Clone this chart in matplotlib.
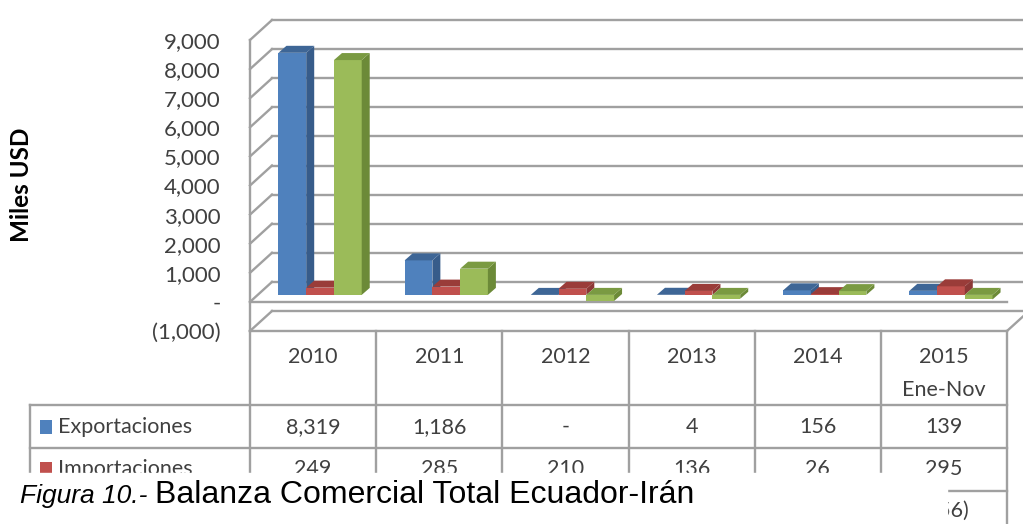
import numpy as np
import matplotlib.pyplot as plt
from matplotlib.patches import Polygon, Rectangle

years = ['2010', '2011', '2012', '2013', '2014', '2015\nEne-Nov']
exportaciones = [8319, 1186, 0, 4, 156, 139]
importaciones = [249, 285, 210, 136, 26, 295]
balanza = [8070, 901, -210, -132, 130, -156]
series = [exportaciones, importaciones, balanza]
names = ['Exportaciones', 'Importaciones', 'Balanza Comercial']
yticks = list(range(-1000, 9001, 1000))

front = ['#4F81BD', '#C0504D', '#9BBB59']
side = ['#375C8A', '#8C3836', '#6C8A38']
top = ['#3E6696', '#9A3C39', '#7A9A42']
grid_c = '#a0a0a0'
txt_c = '#404040'


def fmt(v):
    if v == 0:
        return '-'
    if v < 0:
        return '({:,})'.format(-v)
    return '{:,}'.format(v)


W, H = 1023, 524
fig = plt.figure(figsize=(W / 100, H / 100), dpi=100)
plt.rcParams['font.family'] = ['Lato', 'DejaVu Sans']

# plano frontal del grafico
ax = fig.add_axes([250 / W, (H - 331) / H, 757 / W, 291 / H])
ax.set_xlim(0, 6)
ax.set_ylim(-1000, 9000)
ax.patch.set_visible(False)
for s in ax.spines.values():
    s.set_visible(False)
ax.set_xticks([])
ax.set_yticks(yticks, [fmt(t) for t in yticks], fontsize=16, color=txt_c)
ax.tick_params(axis='y', length=0, pad=21)
fig.text(22 / W, (H - 185) / H, 'Miles USD', rotation=90, fontsize=17.5, fontweight='bold',
         ha='center', va='center')

# pixeles -> unidades de datos
sx = 6 / 757
sy = 10000 / 291
fdx, fdy = 22 * sx, 20 * sy     # profundidad del piso
bdx, bdy = 7 * sx, 7 * sy       # desplazamiento de las barras
ddx, ddy = 8 * sx, 7 * sy       # profundidad de cada barra
w = 0.22

# paredes y lineas de division
for t in yticks:
    ax.plot([fdx, 6 + fdx], [t + fdy, t + fdy], color=grid_c, lw=1.7, clip_on=False, zorder=1)
    ax.plot([0, fdx], [t, t + fdy], color=grid_c, lw=1.7, clip_on=False, zorder=1)
ax.plot([0, 0], [-1000, 9000], color=grid_c, lw=1.7, clip_on=False, zorder=1)
ax.plot([0, 6], [0, 0], color=grid_c, lw=1.7, clip_on=False, zorder=2)
ax.plot([0, 6], [-1000, -1000], color=grid_c, lw=1.7, clip_on=False, zorder=2)
ax.plot([6, 6 + fdx], [-1000, -1000 + fdy], color=grid_c, lw=1.7, clip_on=False, zorder=2)

# barras 3D
for i in range(len(years)):
    for j, vals in enumerate(series):
        v = vals[i]
        x0 = i + 0.5 - 1.5 * w + j * w + bdx
        y0, y1 = bdy, v + bdy
        hi = max(y0, y1)
        z = 3 + i * 3 + j
        ax.add_patch(Rectangle((x0, min(y0, y1)), w, abs(v), color=front[j], lw=0, zorder=z))
        ax.add_patch(Polygon([(x0 + w, y0), (x0 + w + ddx, y0 + ddy), (x0 + w + ddx, y1 + ddy), (x0 + w, y1)],
                             closed=True, color=side[j], lw=0, zorder=z))
        ax.add_patch(Polygon([(x0, hi), (x0 + w, hi), (x0 + w + ddx, hi + ddy), (x0 + ddx, hi + ddy)],
                             closed=True, color=top[j], lw=0, zorder=z))

# tabla de datos
tab = fig.add_axes([250 / W, 0, 757 / W, (H - 331) / H])
tab.set_xlim(0, 6)
tab.set_ylim(H, 331)
tab.axis('off')
xl = (30 - 250) * sx
for yy in [405, 448, 491]:
    tab.plot([xl, 6], [yy, yy], color=grid_c, lw=1.7, clip_on=False)
for k in range(7):
    tab.plot([k, k], [331, H], color=grid_c, lw=1.7, clip_on=False)
tab.plot([xl, xl], [405, H], color=grid_c, lw=1.7, clip_on=False)

for i, yr in enumerate(years):
    for n, line in enumerate(yr.split('\n')):
        tab.text(i + 0.5, 357 + 33 * n, line, ha='center', va='center', fontsize=15.5, color=txt_c)

# la ultima fila queda tapada por el pie de figura: solo asoma la ultima columna
caption_right = (947 - 250) * sx
row_y = [427, 469, 511]
for j, vals in enumerate(series):
    if j < 2:
        tab.add_patch(Rectangle(((40 - 250) * sx, row_y[j] - 7), 12 * sx, 14, color=front[j], lw=0,
                                clip_on=False))
        tab.text((58 - 250) * sx, row_y[j], names[j], ha='left', va='center', fontsize=15.5,
                 color=txt_c, clip_on=False)
    for i, v in enumerate(vals):
        if j == 2 and i + 1 < caption_right:
            continue
        tab.text(i + 0.5, row_y[j], fmt(v), ha='center', va='center', fontsize=15.5, color=txt_c)

# pie de figura
fig.patches.append(Rectangle((0, 0), 947 / W, (H - 473) / H, transform=fig.transFigure,
                             color='white', zorder=20))
fig.text(20 / W, (H - 503) / H, 'Figura 10.-', fontsize=19, style='italic',
         family='Liberation Sans', va='baseline', zorder=21)
fig.text(155 / W, (H - 503) / H, 'Balanza Comercial Total Ecuador-Irán', fontsize=23,
         family='Liberation Sans', va='baseline', zorder=21)

plt.savefig('out.png', dpi=100)
